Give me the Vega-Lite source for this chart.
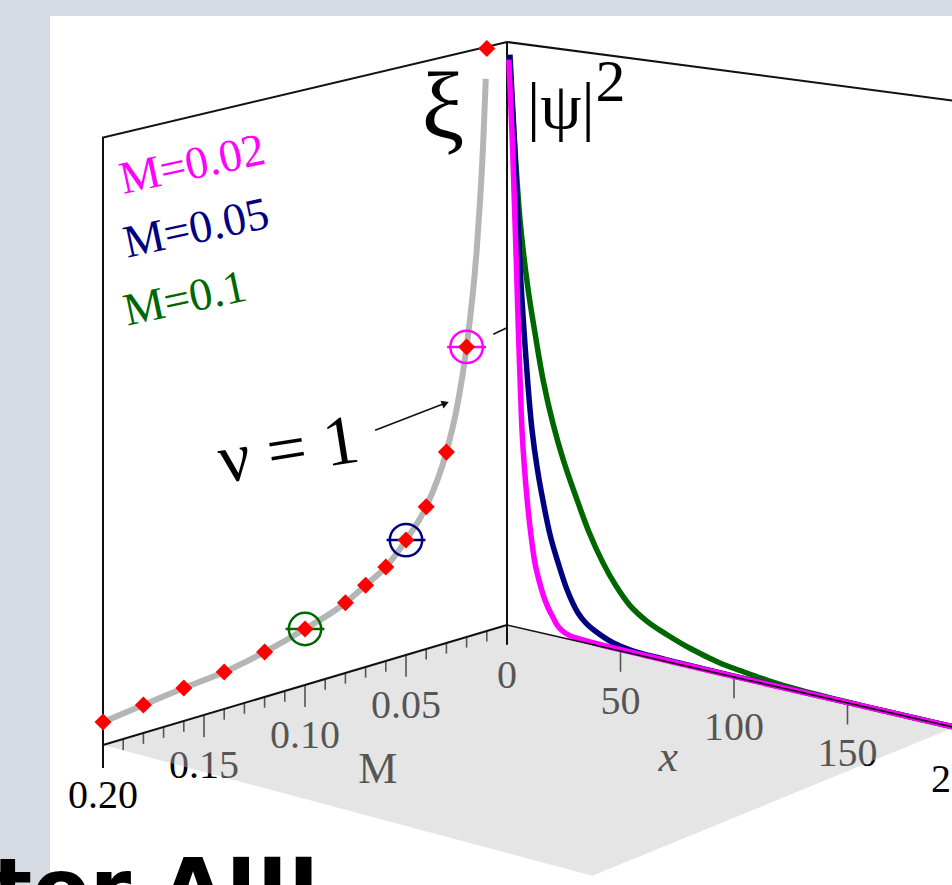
{
  "$schema": "https://vega.github.io/schema/vega-lite/v6.json",
  "width": 902,
  "height": 869,
  "autosize": "none",
  "padding": {"left": 50, "top": 16, "right": 0, "bottom": 0},
  "background": "#d6dae3",
  "config": {"view": {"stroke": null, "fill": "white"}},
  "title": {"text": "tor AIII", "orient": "bottom", "anchor": "start", "frame": "group", "fontSize": 84, "font": "DejaVu Sans", "fontWeight": "bold", "color": "black", "baseline": "alphabetic", "offset": 33, "dx": -58},
  "data": {"values": [
    {"g": "mlab", "M": 0.2, "label": "0.20"},
    {"g": "mlab", "M": 0.15, "label": "0.15"},
    {"g": "mlab", "M": 0.1, "label": "0.10"},
    {"g": "mlab", "M": 0.05, "label": "0.05"},
    {"g": "mlab", "M": 0, "label": "0"},
    {"g": "mlab", "x": 50, "label": "50"},
    {"g": "mlab", "x": 100, "label": "100"},
    {"g": "mlab", "x": 150, "label": "150"},
    {"g": "mlab", "x": 200, "label": "200"},
    {"g": "mtitle", "M": 0.064, "z": -0.18, "label": "M"},
    {"g": "xtitle", "x": 71, "z": -0.16, "label": "x"},

    {"g": "tick", "s": "m01", "i": 0, "M": 0.01, "z": 0}, {"g": "tick", "s": "m01", "i": 1, "M": 0.01, "z": -0.018},
    {"g": "tick", "s": "m02", "i": 0, "M": 0.02, "z": 0}, {"g": "tick", "s": "m02", "i": 1, "M": 0.02, "z": -0.018},
    {"g": "tick", "s": "m03", "i": 0, "M": 0.03, "z": 0}, {"g": "tick", "s": "m03", "i": 1, "M": 0.03, "z": -0.018},
    {"g": "tick", "s": "m04", "i": 0, "M": 0.04, "z": 0}, {"g": "tick", "s": "m04", "i": 1, "M": 0.04, "z": -0.018},
    {"g": "tick", "s": "m05", "i": 0, "M": 0.05, "z": 0}, {"g": "tick", "s": "m05", "i": 1, "M": 0.05, "z": -0.037},
    {"g": "tick", "s": "m06", "i": 0, "M": 0.06, "z": 0}, {"g": "tick", "s": "m06", "i": 1, "M": 0.06, "z": -0.018},
    {"g": "tick", "s": "m07", "i": 0, "M": 0.07, "z": 0}, {"g": "tick", "s": "m07", "i": 1, "M": 0.07, "z": -0.018},
    {"g": "tick", "s": "m08", "i": 0, "M": 0.08, "z": 0}, {"g": "tick", "s": "m08", "i": 1, "M": 0.08, "z": -0.018},
    {"g": "tick", "s": "m09", "i": 0, "M": 0.09, "z": 0}, {"g": "tick", "s": "m09", "i": 1, "M": 0.09, "z": -0.018},
    {"g": "tick", "s": "m10", "i": 0, "M": 0.1, "z": 0}, {"g": "tick", "s": "m10", "i": 1, "M": 0.1, "z": -0.037},
    {"g": "tick", "s": "m11", "i": 0, "M": 0.11, "z": 0}, {"g": "tick", "s": "m11", "i": 1, "M": 0.11, "z": -0.018},
    {"g": "tick", "s": "m12", "i": 0, "M": 0.12, "z": 0}, {"g": "tick", "s": "m12", "i": 1, "M": 0.12, "z": -0.018},
    {"g": "tick", "s": "m13", "i": 0, "M": 0.13, "z": 0}, {"g": "tick", "s": "m13", "i": 1, "M": 0.13, "z": -0.018},
    {"g": "tick", "s": "m14", "i": 0, "M": 0.14, "z": 0}, {"g": "tick", "s": "m14", "i": 1, "M": 0.14, "z": -0.018},
    {"g": "tick", "s": "m15", "i": 0, "M": 0.15, "z": 0}, {"g": "tick", "s": "m15", "i": 1, "M": 0.15, "z": -0.037},
    {"g": "tick", "s": "m16", "i": 0, "M": 0.16, "z": 0}, {"g": "tick", "s": "m16", "i": 1, "M": 0.16, "z": -0.018},
    {"g": "tick", "s": "m17", "i": 0, "M": 0.17, "z": 0}, {"g": "tick", "s": "m17", "i": 1, "M": 0.17, "z": -0.018},
    {"g": "tick", "s": "m18", "i": 0, "M": 0.18, "z": 0}, {"g": "tick", "s": "m18", "i": 1, "M": 0.18, "z": -0.018},
    {"g": "tick", "s": "m19", "i": 0, "M": 0.19, "z": 0}, {"g": "tick", "s": "m19", "i": 1, "M": 0.19, "z": -0.018},
    {"g": "tick", "s": "x050", "i": 0, "x": 50, "z": 0}, {"g": "tick", "s": "x050", "i": 1, "x": 50, "z": -0.035},
    {"g": "tick", "s": "x100", "i": 0, "x": 100, "z": 0}, {"g": "tick", "s": "x100", "i": 1, "x": 100, "z": -0.035},
    {"g": "tick", "s": "x150", "i": 0, "x": 150, "z": 0}, {"g": "tick", "s": "x150", "i": 1, "x": 150, "z": -0.035},
    {"g": "tick", "s": "x200", "i": 0, "x": 200, "z": 0}, {"g": "tick", "s": "x200", "i": 1, "x": 200, "z": -0.035},

    {"g": "floor", "i": 0, "M": 0, "x": 0},
    {"g": "floor", "i": 1, "M": 0.2, "x": 0},
    {"g": "floor", "i": 2, "M": 0.2, "x": 197},
    {"g": "floor", "i": 3, "M": 0, "x": 197},

    {"g": "wall", "s": "w1", "i": 0, "M": 0.2, "z": -0.038},
    {"g": "wall", "s": "w1", "i": 1, "M": 0.2, "z": 1},
    {"g": "wall", "s": "w1", "i": 2, "M": 0, "z": 1},
    {"g": "wall", "s": "w1", "i": 3, "M": 0, "x": 215, "z": 1},
    {"g": "wall", "s": "w2", "i": 0, "M": 0, "z": 1},
    {"g": "wall", "s": "w2", "i": 1, "M": 0, "z": -0.034},
    {"g": "wall", "s": "w3", "i": 0, "M": 0.2, "z": 0},
    {"g": "wall", "s": "w3", "i": 1, "M": 0, "z": 0},

    {"g": "xaxis", "i": 0, "x": 0, "z": 0},
    {"g": "xaxis", "i": 1, "x": 215, "z": 0},

    {"g": "xiline", "M": 0.2, "xi": 3.8},
    {"g": "xiline", "M": 0.18, "xi": 4.65},
    {"g": "xiline", "M": 0.16, "xi": 5.5},
    {"g": "xiline", "M": 0.14, "xi": 6.2},
    {"g": "xiline", "M": 0.12, "xi": 7.56},
    {"g": "xiline", "M": 0.1, "xi": 9.46},
    {"g": "xiline", "M": 0.08, "xi": 11.9},
    {"g": "xiline", "M": 0.07, "xi": 13.9},
    {"g": "xiline", "M": 0.06, "xi": 16.0},
    {"g": "xiline", "M": 0.05, "xi": 19.6},
    {"g": "xiline", "M": 0.04, "xi": 24.3},
    {"g": "xiline", "M": 0.03, "xi": 32.7},
    {"g": "xiline", "M": 0.025, "xi": 39.5},
    {"g": "xiline", "M": 0.02, "xi": 49.8},
    {"g": "xiline", "M": 0.015, "xi": 66},
    {"g": "xiline", "M": 0.0134, "xi": 74},
    {"g": "xiline", "M": 0.0118, "xi": 84},
    {"g": "xiline", "M": 0.0105, "xi": 95},

    {"g": "dia", "M": 0.2, "xi": 3.8},
    {"g": "dia", "M": 0.18, "xi": 4.65},
    {"g": "dia", "M": 0.16, "xi": 5.5},
    {"g": "dia", "M": 0.14, "xi": 6.2},
    {"g": "dia", "M": 0.12, "xi": 7.56},
    {"g": "dia", "M": 0.1, "xi": 9.46},
    {"g": "dia", "M": 0.08, "xi": 11.9},
    {"g": "dia", "M": 0.07, "xi": 13.9},
    {"g": "dia", "M": 0.06, "xi": 16.0},
    {"g": "dia", "M": 0.05, "xi": 19.6},
    {"g": "dia", "M": 0.04, "xi": 24.3},
    {"g": "dia", "M": 0.03, "xi": 32.7},
    {"g": "dia", "M": 0.02, "xi": 49.8},
    {"g": "dia", "M": 0.01, "xi": 100.2},

    {"g": "ring", "series": "M=0.02", "M": 0.02, "xi": 49.8},
    {"g": "ring", "series": "M=0.05", "M": 0.05, "xi": 19.6},
    {"g": "ring", "series": "M=0.1", "M": 0.1, "xi": 9.46},

    {"g": "psi", "series": "M=0.1", "x": 1.0, "psi2": 0.975},
    {"g": "psi", "series": "M=0.1", "x": 3.0, "psi2": 0.85},
    {"g": "psi", "series": "M=0.1", "x": 5.7, "psi2": 0.7},
    {"g": "psi", "series": "M=0.1", "x": 9, "psi2": 0.59},
    {"g": "psi", "series": "M=0.1", "x": 12.3, "psi2": 0.51},
    {"g": "psi", "series": "M=0.1", "x": 16, "psi2": 0.43},
    {"g": "psi", "series": "M=0.1", "x": 20.3, "psi2": 0.36},
    {"g": "psi", "series": "M=0.1", "x": 25, "psi2": 0.3},
    {"g": "psi", "series": "M=0.1", "x": 31.3, "psi2": 0.235},
    {"g": "psi", "series": "M=0.1", "x": 36, "psi2": 0.19},
    {"g": "psi", "series": "M=0.1", "x": 42.3, "psi2": 0.142},
    {"g": "psi", "series": "M=0.1", "x": 48, "psi2": 0.108},
    {"g": "psi", "series": "M=0.1", "x": 54.2, "psi2": 0.08},
    {"g": "psi", "series": "M=0.1", "x": 61.7, "psi2": 0.06},
    {"g": "psi", "series": "M=0.1", "x": 70.5, "psi2": 0.045},
    {"g": "psi", "series": "M=0.1", "x": 80.6, "psi2": 0.031},
    {"g": "psi", "series": "M=0.1", "x": 93.8, "psi2": 0.018},
    {"g": "psi", "series": "M=0.1", "x": 102.6, "psi2": 0.013},
    {"g": "psi", "series": "M=0.1", "x": 115, "psi2": 0.007},
    {"g": "psi", "series": "M=0.1", "x": 130, "psi2": 0.003},
    {"g": "psi", "series": "M=0.1", "x": 160, "psi2": 0.001},
    {"g": "psi", "series": "M=0.1", "x": 215, "psi2": 0.0005},

    {"g": "psi", "series": "M=0.05", "x": 1.3, "psi2": 0.979},
    {"g": "psi", "series": "M=0.05", "x": 3.2, "psi2": 0.835},
    {"g": "psi", "series": "M=0.05", "x": 4.8, "psi2": 0.7},
    {"g": "psi", "series": "M=0.05", "x": 6.0, "psi2": 0.6},
    {"g": "psi", "series": "M=0.05", "x": 7.5, "psi2": 0.51},
    {"g": "psi", "series": "M=0.05", "x": 9.2, "psi2": 0.42},
    {"g": "psi", "series": "M=0.05", "x": 11, "psi2": 0.344},
    {"g": "psi", "series": "M=0.05", "x": 13.3, "psi2": 0.28},
    {"g": "psi", "series": "M=0.05", "x": 15.9, "psi2": 0.225},
    {"g": "psi", "series": "M=0.05", "x": 19, "psi2": 0.17},
    {"g": "psi", "series": "M=0.05", "x": 22.5, "psi2": 0.126},
    {"g": "psi", "series": "M=0.05", "x": 26.5, "psi2": 0.083},
    {"g": "psi", "series": "M=0.05", "x": 31.3, "psi2": 0.048},
    {"g": "psi", "series": "M=0.05", "x": 35, "psi2": 0.033},
    {"g": "psi", "series": "M=0.05", "x": 38.8, "psi2": 0.024},
    {"g": "psi", "series": "M=0.05", "x": 46.7, "psi2": 0.011},
    {"g": "psi", "series": "M=0.05", "x": 55, "psi2": 0.005},
    {"g": "psi", "series": "M=0.05", "x": 70, "psi2": 0.003},
    {"g": "psi", "series": "M=0.05", "x": 100, "psi2": 0.0015},
    {"g": "psi", "series": "M=0.05", "x": 150, "psi2": 0.001},
    {"g": "psi", "series": "M=0.05", "x": 215, "psi2": 0.0005},

    {"g": "psi", "series": "M=0.02", "x": 0.8, "psi2": 0.97},
    {"g": "psi", "series": "M=0.02", "x": 2.3, "psi2": 0.834},
    {"g": "psi", "series": "M=0.02", "x": 3.5, "psi2": 0.698},
    {"g": "psi", "series": "M=0.02", "x": 4.3, "psi2": 0.6},
    {"g": "psi", "series": "M=0.02", "x": 5.0, "psi2": 0.51},
    {"g": "psi", "series": "M=0.02", "x": 5.8, "psi2": 0.42},
    {"g": "psi", "series": "M=0.02", "x": 6.6, "psi2": 0.34},
    {"g": "psi", "series": "M=0.02", "x": 7.6, "psi2": 0.28},
    {"g": "psi", "series": "M=0.02", "x": 8.8, "psi2": 0.225},
    {"g": "psi", "series": "M=0.02", "x": 10.5, "psi2": 0.165},
    {"g": "psi", "series": "M=0.02", "x": 12.3, "psi2": 0.117},
    {"g": "psi", "series": "M=0.02", "x": 14, "psi2": 0.09},
    {"g": "psi", "series": "M=0.02", "x": 15.9, "psi2": 0.066},
    {"g": "psi", "series": "M=0.02", "x": 17.8, "psi2": 0.048},
    {"g": "psi", "series": "M=0.02", "x": 19.8, "psi2": 0.034},
    {"g": "psi", "series": "M=0.02", "x": 22, "psi2": 0.02},
    {"g": "psi", "series": "M=0.02", "x": 24.2, "psi2": 0.012},
    {"g": "psi", "series": "M=0.02", "x": 27, "psi2": 0.007},
    {"g": "psi", "series": "M=0.02", "x": 30, "psi2": 0.005},
    {"g": "psi", "series": "M=0.02", "x": 40, "psi2": 0.003},
    {"g": "psi", "series": "M=0.02", "x": 60, "psi2": 0.002},
    {"g": "psi", "series": "M=0.02", "x": 100, "psi2": 0.001},
    {"g": "psi", "series": "M=0.02", "x": 150, "psi2": 0.0008},
    {"g": "psi", "series": "M=0.02", "x": 215, "psi2": 0.0005},

    {"g": "ctick", "i": 0, "M": 0.0068, "z": 0.505},
    {"g": "ctick", "i": 1, "M": 0, "z": 0.51},

    {"g": "arrow", "i": 0, "M": 0.0653, "z": 0.396},
    {"g": "arrow", "i": 1, "M": 0.031, "z": 0.409},
    {"g": "ahead", "M": 0.0305, "z": 0.409},

    {"g": "xil", "label": "ξ", "M": 0.0317, "z": 0.862},
    {"g": "psil", "label": "|ψ|", "x": 8.8, "z": 0.857},
    {"g": "sq", "label": "2", "x": 39, "z": 0.92},
    {"g": "leg", "series": "M=0.02", "label": "M=0.02", "M": 0.19, "z": 0.899},
    {"g": "leg", "series": "M=0.05", "label": "M=0.05", "M": 0.188, "z": 0.792},
    {"g": "leg", "series": "M=0.1", "label": "M=0.1", "M": 0.188, "z": 0.68},
    {"g": "nu", "label": "ν = 1", "M": 0.141, "z": 0.3775}
  ]},
  "transform": [
    {"calculate": "isValid(datum.M) ? datum.M : 0", "as": "m"},
    {"calculate": "isValid(datum.x) ? datum.x : 0", "as": "xx"},
    {"calculate": "isValid(datum.xi) ? datum.xi / 100.5 : (isValid(datum.psi2) ? datum.psi2 : (isValid(datum.z) ? datum.z : 0))", "as": "zz"},
    {"calculate": "507 - 2020 * datum.m + 2.27 * datum.xx + 1.07 * datum.m * datum.xx", "as": "sx"},
    {"calculate": "625 + 600 * datum.m + 0.52 * datum.xx + 0.72 * datum.m * datum.xx - datum.zz * 583 * (1 + 0.21 * datum.m + 0.00038 * datum.xx)", "as": "sy"}
  ],
  "encoding": {
    "x": {"field": "sx", "type": "quantitative", "scale": {"domain": [50, 952], "nice": false, "zero": false}, "axis": null},
    "y": {"field": "sy", "type": "quantitative", "scale": {"domain": [16, 885], "reverse": true, "nice": false, "zero": false}, "axis": null}
  },
  "layer": [
    {"transform": [{"filter": "datum.g == 'mlab'"}],
     "mark": {"type": "text", "font": "Liberation Serif", "fontSize": 40, "color": "black", "align": "center", "baseline": "middle", "dy": 51},
     "encoding": {"text": {"field": "label"}}},
    {"transform": [{"filter": "datum.g == 'mtitle'"}],
     "mark": {"type": "text", "font": "Liberation Serif", "fontSize": 44, "color": "black", "align": "center", "baseline": "middle"},
     "encoding": {"text": {"field": "label"}}},
    {"transform": [{"filter": "datum.g == 'xtitle'"}],
     "mark": {"type": "text", "font": "Liberation Serif", "fontSize": 44, "fontStyle": "italic", "color": "black", "align": "center", "baseline": "middle"},
     "encoding": {"text": {"field": "label"}}},
    {"transform": [{"filter": "datum.g == 'tick'"}],
     "mark": {"type": "line", "color": "black", "strokeWidth": 1.6},
     "encoding": {"detail": {"field": "s"}, "order": {"field": "i"}}},
    {"transform": [{"filter": "datum.g == 'floor'"}],
     "mark": {"type": "line", "fill": "#c3c3c3", "fillOpacity": 0.435, "strokeWidth": 0, "stroke": null},
     "encoding": {"order": {"field": "i"}}},
    {"transform": [{"filter": "datum.g == 'wall'"}],
     "mark": {"type": "line", "color": "#111111", "strokeWidth": 2},
     "encoding": {"detail": {"field": "s"}, "order": {"field": "i"}}},
    {"transform": [{"filter": "datum.g == 'xiline'"}],
     "mark": {"type": "line", "color": "#b5b5b5", "strokeWidth": 6, "interpolate": "monotone"}},
    {"transform": [{"filter": "datum.g == 'psi' && datum.series == 'M=0.1'"}],
     "mark": {"type": "line", "strokeWidth": 5.5, "interpolate": "catmull-rom"},
     "encoding": {"color": {"field": "series", "type": "nominal", "scale": {"domain": ["M=0.02", "M=0.05", "M=0.1"], "range": ["#ff00ff", "#000080", "#006600"]}, "legend": null}}},
    {"transform": [{"filter": "datum.g == 'psi' && datum.series == 'M=0.05'"}],
     "mark": {"type": "line", "strokeWidth": 5.5, "interpolate": "catmull-rom"},
     "encoding": {"color": {"field": "series", "type": "nominal", "legend": null}}},
    {"transform": [{"filter": "datum.g == 'psi' && datum.series == 'M=0.02'"}],
     "mark": {"type": "line", "strokeWidth": 5.5, "interpolate": "catmull-rom"},
     "encoding": {"color": {"field": "series", "type": "nominal", "legend": null}}},
    {"transform": [{"filter": "datum.g == 'xaxis'"}],
     "mark": {"type": "line", "color": "#111111", "strokeWidth": 1.6},
     "encoding": {"order": {"field": "i"}}},
    {"transform": [{"filter": "datum.g == 'ctick' || datum.g == 'arrow'"}],
     "mark": {"type": "line", "color": "#111111", "strokeWidth": 1.6},
     "encoding": {"detail": {"field": "g"}, "order": {"field": "i"}}},
    {"transform": [{"filter": "datum.g == 'ahead'"}],
     "mark": {"type": "point", "shape": "triangle-right", "filled": true, "color": "#111111", "size": 70, "angle": -21, "opacity": 1}},
    {"transform": [{"filter": "datum.g == 'ring'"}],
     "mark": {"type": "point", "shape": "circle", "filled": false, "size": 1050, "strokeWidth": 2.5, "opacity": 1},
     "encoding": {"color": {"field": "series", "type": "nominal", "legend": null}}},
    {"transform": [{"filter": "datum.g == 'ring'"}],
     "mark": {"type": "point", "shape": "M -1.2 0 L 1.2 0", "filled": false, "size": 1050, "strokeWidth": 2.5, "opacity": 1},
     "encoding": {"color": {"field": "series", "type": "nominal", "legend": null}}},
    {"transform": [{"filter": "datum.g == 'dia'"}],
     "mark": {"type": "point", "shape": "diamond", "filled": true, "color": "#ff0000", "size": 290, "opacity": 1}},
    {"transform": [{"filter": "datum.g == 'xil'"}],
     "mark": {"type": "text", "font": "Liberation Serif", "fontSize": 96, "color": "black", "align": "center", "baseline": "alphabetic"},
     "encoding": {"text": {"field": "label"}}},
    {"transform": [{"filter": "datum.g == 'psil'"}],
     "mark": {"type": "text", "font": "Liberation Serif", "fontSize": 66, "color": "black", "align": "left", "baseline": "alphabetic"},
     "encoding": {"text": {"field": "label"}}},
    {"transform": [{"filter": "datum.g == 'sq'"}],
     "mark": {"type": "text", "font": "Liberation Serif", "fontSize": 60, "color": "black", "align": "left", "baseline": "alphabetic"},
     "encoding": {"text": {"field": "label"}}},
    {"transform": [{"filter": "datum.g == 'leg'"}],
     "mark": {"type": "text", "font": "Liberation Serif", "fontSize": 46, "align": "left", "baseline": "alphabetic", "angle": -12},
     "encoding": {"text": {"field": "label"}, "color": {"field": "series", "type": "nominal", "legend": null}}},
    {"transform": [{"filter": "datum.g == 'nu'"}],
     "mark": {"type": "text", "font": "Liberation Serif", "fontSize": 70, "color": "black", "align": "left", "baseline": "alphabetic", "angle": -9},
     "encoding": {"text": {"field": "label"}}}
  ]
}
